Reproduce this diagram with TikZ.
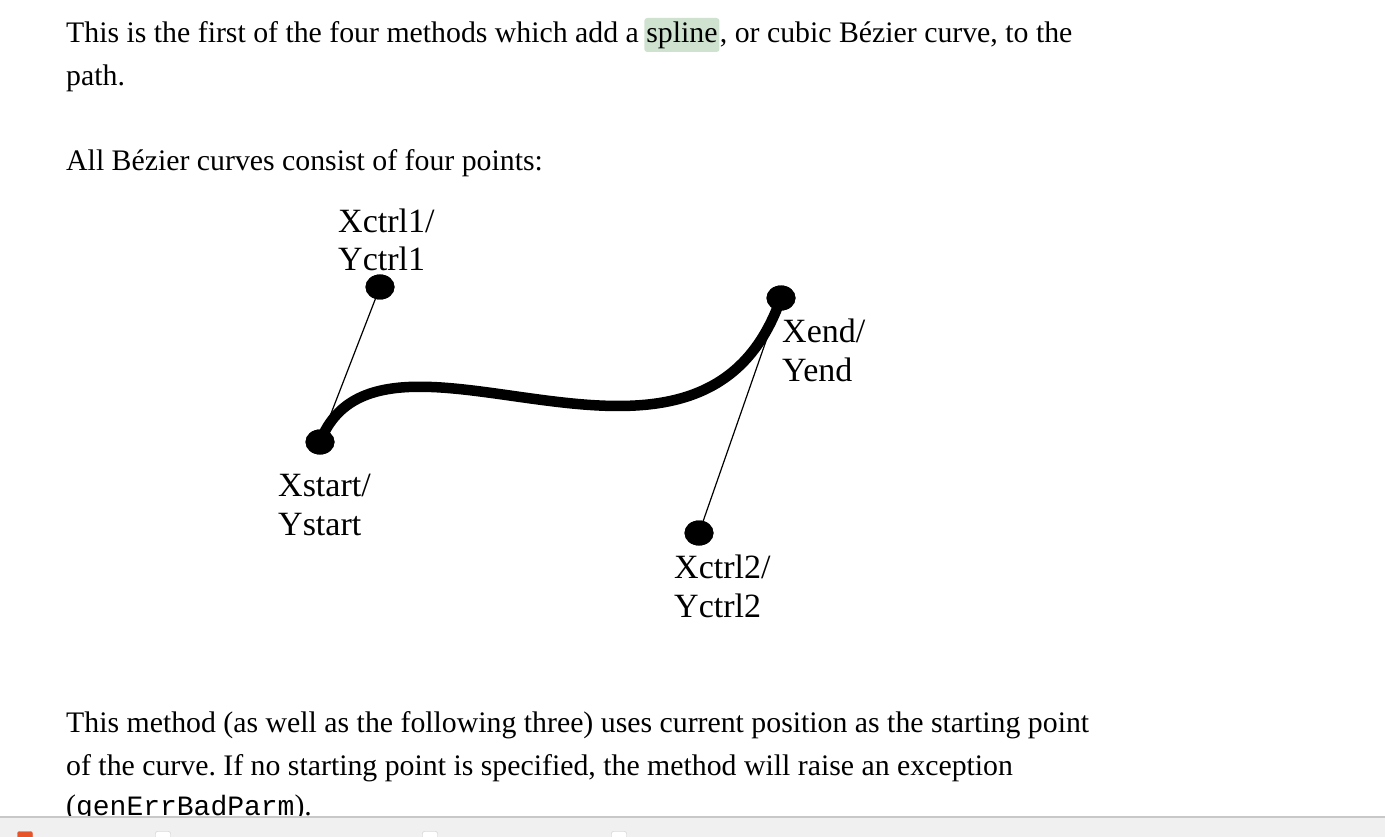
\documentclass[tikz,border=0pt]{standalone}
\usepackage{fontspec}
\setmainfont{Liberation Serif}
\setmonofont{Liberation Mono}
\usepackage{xcolor}
\usetikzlibrary{positioning,shapes.geometric}
\definecolor{cMark}{HTML}{cfe2cf}
\definecolor{cBar} {HTML}{f0f0f0}
\definecolor{cEdge}{HTML}{c8c8c8}
\definecolor{cTick}{HTML}{e8542a}
\newcommand{\bodyfont}{\fontsize{29.8}{43}\selectfont\frenchspacing}
\newcommand{\lblfont}{\fontsize{34}{39}\selectfont}
\tikzset{
  body/.style={font=\bodyfont,inner sep=0pt,anchor=base west},
  lbl/.style={font=\lblfont,inner sep=0pt,anchor=base west,align=left},
  knot/.style={ellipse,fill=black,minimum width=29pt,minimum height=25pt,inner sep=0pt},
  tickbox/.style={draw=cEdge,fill=white,rounded corners=2pt,minimum size=15pt,inner sep=0pt}
}

\begin{document}
\begin{tikzpicture}[x=1pt,y=-1pt]
  \useasboundingbox (0,0) rectangle (1385,837);
  \fill[white] (0,0) rectangle (1385,837);

  % text above the figure
  \node[body] (introA) at (66,43) {This is the first of the four methods which add a};
  \node[body,fill=cMark,rounded corners=3pt,inner xsep=2pt,text height=25pt,text depth=9pt,
        base right=5pt of introA] (spline) {spline};
  \node[body,base right=0pt of spline] (introB) {, or cubic Bézier curve, to the};
  \node[body] (introC) at (66,86) {path.};
  \node[body] (points) at (66,171) {All Bézier curves consist of four points:};

  % the four points
  \node[knot] (start) at (320,442) {};
  \node[knot] (ctrlA) at (380,287) {};
  \node[knot] (stop)  at (781,298) {};
  \node[knot] (ctrlB) at (699,533) {};

  \draw[line width=1.2pt] (ctrlA.center) -- (start.center);
  \draw[line width=1.2pt] (ctrlB.center) -- (stop.center);
  \draw[line width=10.5pt] (start.center) .. controls (ctrlA.center) and (ctrlB.center) .. (stop.center);
  \foreach \p in {start,ctrlA,stop,ctrlB}
    \fill (\p) ellipse (14.5pt and 12.5pt);

  % labels (anchor is the baseline of the second line)
  \node[lbl] (ctrlAlbl) at (338,271) {Xctrl1/\\Yctrl1};
  \node[lbl] (stoplbl)  at (782,381) {Xend/\\Yend};
  \node[lbl] (startlbl) at (278,535) {Xstart/\\Ystart};
  \node[lbl] (ctrlBlbl) at (674,617) {Xctrl2/\\Yctrl2};

  % text below the figure
  \node[body] (restA) at (66,732) {This method (as well as the following three) uses current position as the starting point};
  \node[body] (restB) at (66,775) {of the curve. If no starting point is specified, the method will raise an exception};
  \node[body] (restC) at (66,815) {({\fontsize{28}{43}\selectfont\texttt{genErrBadParm}}).};

  % status bar
  \fill[cBar] (0,817) rectangle (1385,837);
  \draw[cEdge,line width=1.2pt] (0,817) -- (1385,817);
  \node[tickbox,fill=cTick,draw=cTick] (boxA) at (25,839) {};
  \node[tickbox] (boxB) at (163,839) {};
  \node[tickbox] (boxC) at (430,839) {};
  \node[tickbox] (boxD) at (619,839) {};
\end{tikzpicture}
\end{document}
